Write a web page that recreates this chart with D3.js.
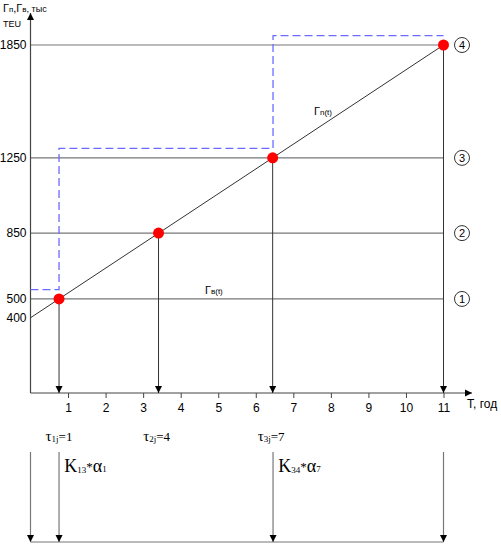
<!DOCTYPE html>
<html><head><meta charset="utf-8">
<script src="https://cdn.jsdelivr.net/npm/d3@7"></script>
<style>body{margin:0;background:#fff}svg{display:block}</style>
</head><body>
<script>
const xTicks = [1,2,3,4,5,6,7,8,9,10,11];
const yTicks = [400,500,850,1250,1850];
const levelValues = [500,850,1250,1850];
const levelLabels = ["1","2","3","4"];
const gnLine = [{t:0,v:400},{t:11,v:1850}];
const gvStep = [{t:0,v:550},{t:0.76,v:550},{t:0.76,v:1300},{t:6.46,v:1300},{t:6.46,v:1900},{t:11,v:1900}];
const pointT = [0.76,3.41,6.45,11];
const pointV = [500,850,1250,1850];
const bottomT = [0,0.76,6.46,11];
const tauLabels = [{t:0.4,name:"τ",sub:"1j",val:"=1"},{t:3.0,name:"τ",sub:"2j",val:"=4"},{t:6.05,name:"τ",sub:"3j",val:"=7"}];
const kLabels = [{t:0.9,k:"13",a:"1"},{t:6.6,k:"34",a:"7"}];

const W=501,H=544;
const svg=d3.select("body").append("svg").attr("width",W).attr("height",H);
const x=d3.scaleLinear().domain([0,11]).range([30.5,443.5]);
const y=d3.scaleLinear().domain([0,1850]).range([393,45]);
const gray="#777";

// arrow marker
const defs=svg.append("defs");
defs.append("marker").attr("id","arr").attr("viewBox","0 0 10 10").attr("refX",10).attr("refY",5)
 .attr("markerWidth",7).attr("markerHeight",10).attr("markerUnits","userSpaceOnUse").attr("orient","auto")
 .append("path").attr("d","M0,0L10,5L0,10Z").attr("fill","#000");

// horizontal level lines
svg.selectAll(".lvl").data(levelValues).join("line")
 .attr("x1",x(0)).attr("x2",x(11)).attr("y1",d=>y(d)).attr("y2",d=>y(d))
 .attr("stroke",gray).attr("stroke-width",1.2);

// x axis
const xAxis=d3.axisBottom(x).tickValues(xTicks).tickSize(5).tickFormat(d3.format("d"));
const gx=svg.append("g").attr("transform",`translate(0,${y(0)})`).call(xAxis);
gx.select(".domain").remove();
gx.selectAll("line").attr("stroke","#444");
gx.selectAll("text").attr("font-family","Arial, 'Liberation Sans'").attr("font-size",12).attr("fill","#000").attr("dy","0.9em");
svg.append("line").attr("x1",x(0)).attr("x2",472).attr("y1",y(0)).attr("y2",y(0))
 .attr("stroke","#444").attr("stroke-width",1.2).attr("marker-end","url(#arr)");
svg.append("text").attr("x",467).attr("y",408).attr("font-family","Arial, 'Liberation Sans'").attr("font-size",12).text("T, год");

// y axis
const yAxis=d3.axisLeft(y).tickValues(yTicks).tickSize(0).tickPadding(4).tickFormat(d3.format("d"));
const gy=svg.append("g").attr("transform",`translate(${x(0)},0)`).call(yAxis);
gy.select(".domain").remove();
gy.selectAll("text").attr("font-family","Arial, 'Liberation Sans'").attr("font-size",12).attr("fill","#000");
svg.append("line").attr("x1",x(0)).attr("x2",x(0)).attr("y1",y(0)).attr("y2",13)
 .attr("stroke","#444").attr("stroke-width",1.2).attr("marker-end","url(#arr)");
const yl=svg.append("text").attr("x",3).attr("y",12).attr("font-family","Arial, 'Liberation Sans'").attr("font-size",11);
yl.append("tspan").text("Г");
yl.append("tspan").attr("font-size",8).text("п");
yl.append("tspan").text(",Г");
yl.append("tspan").attr("font-size",8).text("в");
yl.append("tspan").attr("font-size",9).text(", тыс");
svg.append("text").attr("x",3).attr("y",27).attr("font-family","Arial, 'Liberation Sans'").attr("font-size",9).text("TEU");

// blue dashed step
const line=d3.line().x(d=>x(d.t)).y(d=>y(d.v));
svg.append("path").attr("d",line(gvStep)).attr("fill","none").attr("stroke","#6b6bff")
 .attr("stroke-width",1.3).attr("stroke-dasharray","8,4");

// Gn line
svg.append("path").attr("d",line(gnLine)).attr("fill","none").attr("stroke","#333").attr("stroke-width",1);

// vertical drop lines
svg.selectAll(".drop").data(pointT).join("line")
 .attr("x1",d=>x(d)).attr("x2",d=>x(d)).attr("y1",(d,i)=>y(pointV[i])).attr("y2",y(0))
 .attr("stroke","#333").attr("stroke-width",1).attr("marker-end","url(#arr)");

// points
svg.selectAll(".pt").data(pointT).join("circle")
 .attr("cx",d=>x(d)).attr("cy",(d,i)=>y(pointV[i])).attr("r",5.5).attr("fill","#ff0000");

// circled labels
const cl=svg.selectAll(".cl").data(levelValues).join("g").attr("transform",d=>`translate(462,${y(d)})`);
cl.append("circle").attr("r",7.5).attr("fill","none").attr("stroke","#333").attr("stroke-width",1);
cl.append("text").attr("text-anchor","middle").attr("dy","0.36em").attr("font-family","Arial, 'Liberation Sans'")
 .attr("font-size",11).text((d,i)=>levelLabels[i]);

// series labels
const l1=svg.append("text").attr("x",314).attr("y",115).attr("font-family","Arial, 'Liberation Sans'").attr("font-size",11);
l1.append("tspan").text("Г"); l1.append("tspan").attr("font-size",8).text("n(t)");
const l2=svg.append("text").attr("x",205).attr("y",294).attr("font-family","Arial, 'Liberation Sans'").attr("font-size",11);
l2.append("tspan").text("Г"); l2.append("tspan").attr("font-size",8).text("в(t)");

// bottom section
const by=542;
svg.append("line").attr("x1",x(0)).attr("x2",x(11)).attr("y1",by).attr("y2",by).attr("stroke",gray).attr("stroke-width",1.2);
svg.selectAll(".barr").data(bottomT).join("line")
 .attr("x1",d=>x(d)).attr("x2",d=>x(d)).attr("y1",452).attr("y2",by)
 .attr("stroke",gray).attr("stroke-width",1.2).attr("marker-end","url(#arr)");
const tl=svg.selectAll(".tau").data(tauLabels).join("text")
 .attr("x",d=>x(d.t)).attr("y",441).attr("font-family","'Liberation Serif', 'Times New Roman', serif").attr("font-size",15);
tl.append("tspan").text(d=>d.name);
tl.append("tspan").attr("font-size",9).attr("dy",1).text(d=>d.sub);
tl.append("tspan").attr("font-size",13).attr("dy",-1).text(d=>d.val);
const kl=svg.selectAll(".kl").data(kLabels).join("text")
 .attr("x",d=>x(d.t)).attr("y",472).attr("font-family","'Liberation Serif', 'Times New Roman', serif").attr("font-size",18);
kl.append("tspan").text("K");
kl.append("tspan").attr("font-size",9).attr("dy",1).text(d=>d.k);
kl.append("tspan").attr("font-size",13).attr("dy",-2).text("*");
kl.append("tspan").attr("font-size",18).attr("dy",1).text("α");
kl.append("tspan").attr("font-size",9).attr("dy",0).text(d=>d.a);
</script>
</body></html>
